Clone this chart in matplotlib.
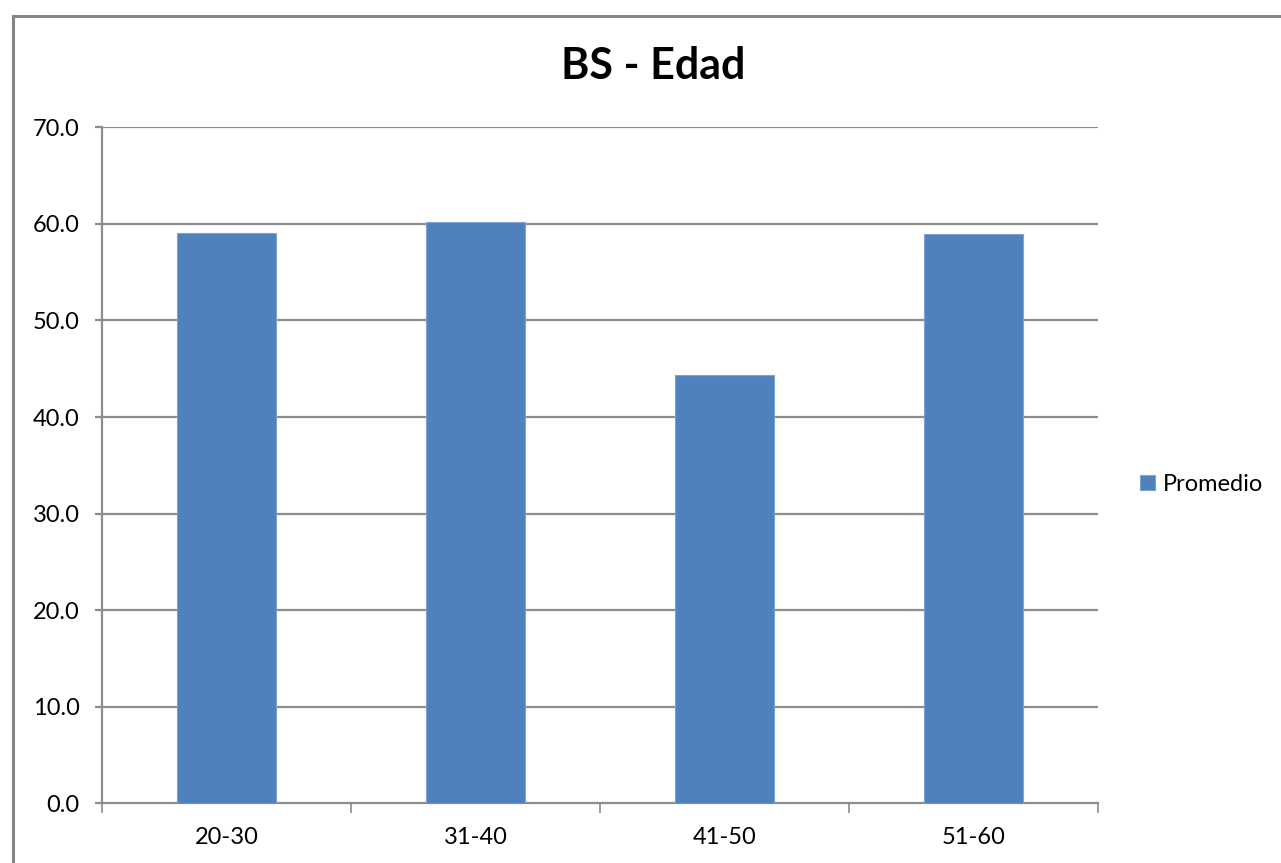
import matplotlib
matplotlib.use("Agg")
import matplotlib.pyplot as plt
from matplotlib.patches import Rectangle

categories = ["20-30", "31-40", "41-50", "51-60"]
promedio = [59.1, 60.2, 44.4, 59.0]
yticks = [0, 10, 20, 30, 40, 50, 60, 70]

plt.rcParams['font.family'] = ['Lato', 'DejaVu Sans']

W, H = 1281, 863
fig = plt.figure(figsize=(W / 100, H / 100), dpi=100)
fig.patch.set_facecolor("white")

# outer chart frame
fig.patches.append(Rectangle((12.5 / W, -0.1), 1.2, 1 - 16 / H + 0.1, transform=fig.transFigure,
                             fill=False, edgecolor="#868686", linewidth=2.2, zorder=0))

left, right, top, bottom = 102, 1098, 127.3, 803.3
ax = fig.add_axes([left / W, 1 - bottom / H, (right - left) / W, (bottom - top) / H])

x = list(range(len(categories)))
bars = ax.bar(x, promedio, width=0.40, color="#4F81BD", edgecolor="#7FA3D0",
              linewidth=0.8, zorder=3, label="Promedio")

ax.set_xlim(-0.5, len(categories) - 0.5)
ax.set_ylim(0, 70)
ax.set_yticks(yticks)
ax.set_yticklabels([f"{v:.1f}" for v in yticks], fontsize=17)
ax.set_xticks(x)
ax.set_xticklabels(categories, fontsize=17)
ax.set_xticks([i - 0.5 for i in range(len(categories) + 1)], minor=True)

for yv in yticks[1:]:
    ax.axhline(yv, color="#8C8C8C", linewidth=1.6, zorder=1)

for s in ["top", "right"]:
    ax.spines[s].set_visible(False)
for s in ["left", "bottom"]:
    ax.spines[s].set_color("#8C8C8C")
    ax.spines[s].set_linewidth(1.6)

ax.tick_params(axis="y", length=5, width=1.6, color="#8C8C8C", pad=11)
ax.tick_params(axis="x", which="major", length=0, pad=17)
ax.tick_params(axis="x", which="minor", length=7, width=1.2, color="#8C8C8C")

fig.text(653 / W, 1 - 66 / H, "BS - Edad", ha="center", va="center",
         fontsize=31, fontweight="bold")

leg = fig.legend(handles=[bars], labels=["Promedio"], loc="center left",
                 bbox_to_anchor=(1140 / W, 1 - 484 / H), frameon=False,
                 fontsize=17, handlelength=0.62, handleheight=0.62,
                 handletextpad=0.35, borderaxespad=0, borderpad=0)

fig.savefig("out.png", dpi=100)
